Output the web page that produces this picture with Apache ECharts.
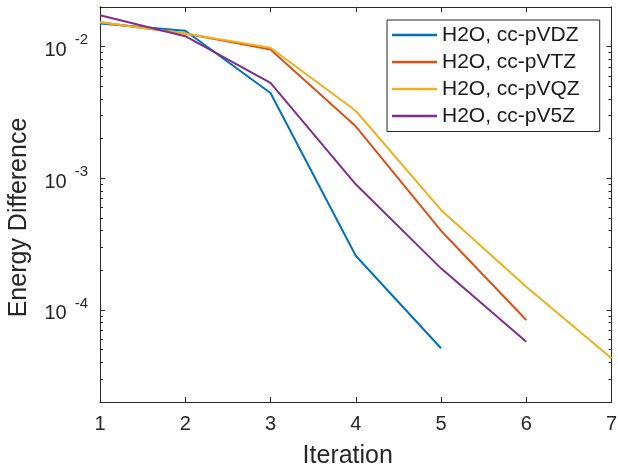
<!DOCTYPE html>
<html>
<head>
<meta charset="utf-8">
<script src="https://cdn.jsdelivr.net/npm/echarts@6/dist/echarts.min.js"></script>
<style>
html,body{margin:0;padding:0;background:#fff;}
#chart{width:618px;height:470px;}
</style>
</head>
<body>
<div id="chart"></div>
<script>
// ---- data ----
var iterations = [1, 2, 3, 4, 5, 6, 7];
var seriesNames = ['H2O, cc-pVDZ', 'H2O, cc-pVTZ', 'H2O, cc-pVQZ', 'H2O, cc-pV5Z'];
var vdz = [0.0150, 0.0132, 0.00444, 2.58e-4, 5.12e-5];
var vtz = [0.0153, 0.0126, 0.0095, 0.00248, 4.0e-4, 8.39e-5];
var vqz = [0.0153, 0.0126, 0.0098, 0.00326, 5.75e-4, 1.50e-4, 4.30e-5];
var v5z = [0.0173, 0.0120, 0.0053, 9.0e-4, 2.07e-4, 5.74e-5];
var xTicks = [1, 2, 3, 4, 5, 6, 7];
var yMajorTicks = [1e-4, 1e-3, 1e-2];
var yMinorTicks = [3e-5, 4e-5, 5e-5, 6e-5, 7e-5, 8e-5, 9e-5,
                   2e-4, 3e-4, 4e-4, 5e-4, 6e-4, 7e-4, 8e-4, 9e-4,
                   2e-3, 3e-3, 4e-3, 5e-3, 6e-3, 7e-3, 8e-3, 9e-3];
var colors = ['#0072BD', '#D95319', '#EDB120', '#7E2F8E'];

var FONT = '"Liberation Sans", Arial, Helvetica, sans-serif';
var AX = '#262626';

function pairs(ys) {
  return ys.map(function (y, i) { return [iterations[i], y]; });
}
var allData = [vdz, vtz, vqz, v5z];

function yAxisDef(pos, ticks, len, extra) {
  var a = {
    type: 'log', logBase: 10, min: 2e-5, max: 0.02, position: pos,
    axisLine: { show: true, lineStyle: { color: AX, width: 1 } },
    axisTick: { show: true, inside: true, length: len, customValues: ticks, lineStyle: { color: AX, width: 1 } },
    axisLabel: { show: false },
    splitLine: { show: false },
    minorTick: { show: false }
  };
  if (extra) { for (var k in extra) a[k] = extra[k]; }
  return a;
}

var chart = echarts.init(document.getElementById('chart'), null, { renderer: 'canvas' });
var option = {
  animation: false,
  backgroundColor: '#fff',
  textStyle: { fontFamily: FONT },
  grid: { left: 100, right: 6.5, top: 7, bottom: 68, containLabel: false, outerBoundsMode: 'none' },
  legend: {
    orient: 'vertical', left: 387, top: 20,
    data: seriesNames,
    icon: 'rect',
    backgroundColor: '#fff', borderColor: AX, borderWidth: 1,
    padding: [4.5, 20, 5, 5],
    itemWidth: 45, itemHeight: 2.5, itemGap: 6,
    textStyle: { fontSize: 21, color: '#1a1a1a', fontFamily: FONT }
  },
  xAxis: [
    {
      type: 'value', min: 1, max: 7, interval: 1, position: 'bottom',
      name: 'Iteration', nameLocation: 'middle', nameGap: 42,
      nameTextStyle: { fontSize: 25, color: AX, fontFamily: FONT, padding: [0, 16, 0, 0] },
      axisLine: { show: true, lineStyle: { color: AX, width: 1 } },
      axisTick: { show: true, inside: true, length: 5, customValues: xTicks, lineStyle: { color: AX } },
      axisLabel: { show: true, customValues: xTicks, margin: 12, fontSize: 20, color: AX, fontFamily: FONT },
      splitLine: { show: false }
    },
    {
      type: 'value', min: 1, max: 7, interval: 1, position: 'top',
      axisLine: { show: true, lineStyle: { color: AX, width: 1 } },
      axisTick: { show: true, inside: true, length: 5, customValues: xTicks, lineStyle: { color: AX } },
      axisLabel: { show: false },
      splitLine: { show: false }
    }
  ],
  yAxis: [
    yAxisDef('left', yMajorTicks, 5, {
      name: 'Energy Difference', nameLocation: 'middle', nameGap: 68,
      nameTextStyle: { fontSize: 25, color: AX, fontFamily: FONT, padding: [0, 26, 0, 0] },
      axisLabel: {
        show: true, customValues: yMajorTicks, margin: 12, color: AX,
        formatter: function (v) {
          var e = Math.round(Math.log10(v));
          return '{b|10}{s|' + e + '}';
        },
        rich: {
          b: { fontSize: 20, color: AX, fontFamily: FONT, padding: [8, 0, 0, 0], verticalAlign: 'bottom' },
          s: { fontSize: 15, color: AX, fontFamily: FONT, padding: [0, 0, 0, 8], verticalAlign: 'top' }
        }
      }
    }),
    yAxisDef('left', yMinorTicks, 3),
    yAxisDef('right', yMajorTicks, 5),
    yAxisDef('right', yMinorTicks, 3)
  ],
  series: allData.map(function (d, i) {
    return {
      name: seriesNames[i], type: 'line', xAxisIndex: 0, yAxisIndex: 0,
      data: pairs(d), symbol: 'none', showSymbol: false,
      lineStyle: { color: colors[i], width: 2 }, itemStyle: { color: colors[i] },
      emphasis: { disabled: true }
    };
  })
};
chart.setOption(option);
</script>
</body>
</html>
